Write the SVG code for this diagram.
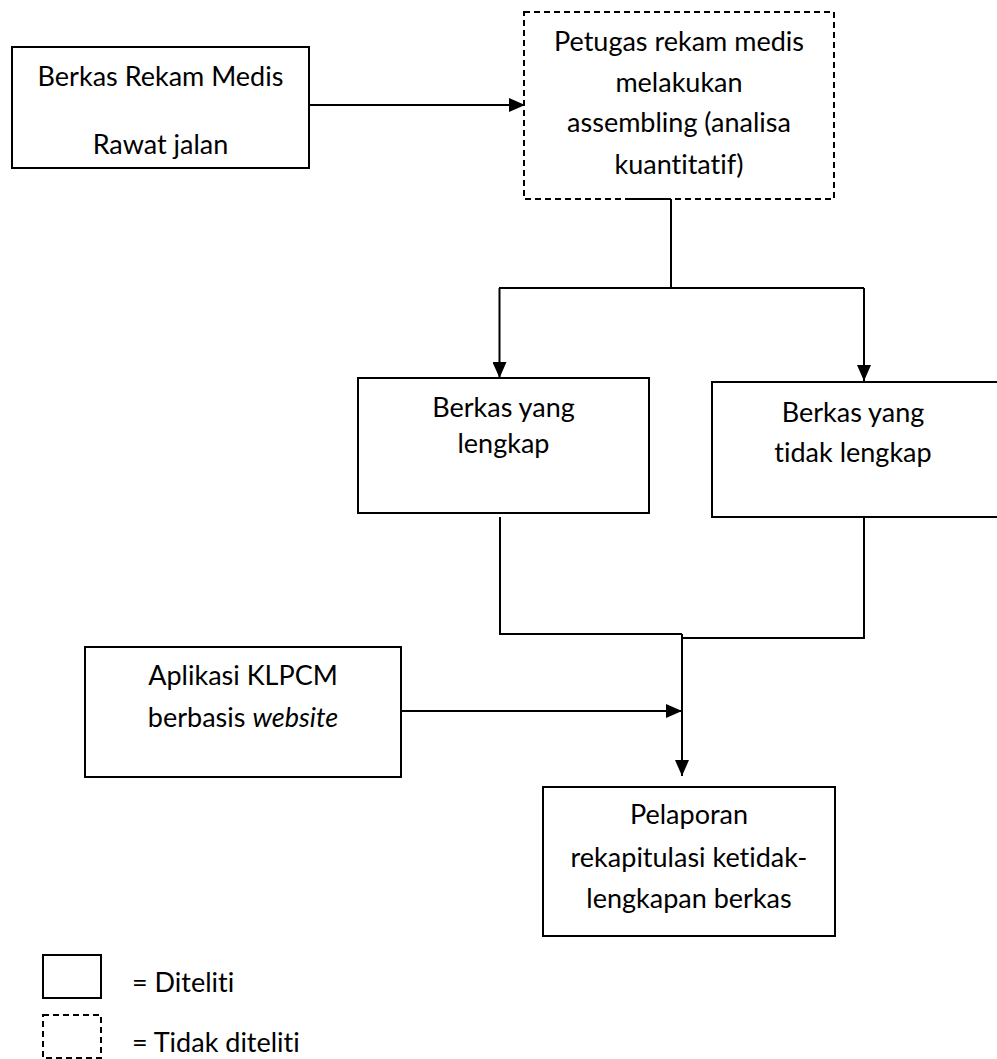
<svg xmlns="http://www.w3.org/2000/svg" width="997" height="1059" viewBox="0 0 997 1059">
<style>
.box{fill:#fff;stroke:#000;stroke-width:2}
.dash{fill:#fff;stroke:#000;stroke-width:2;stroke-dasharray:6 4}
.ln{fill:none;stroke:#000;stroke-width:2}
text{font-family:Lato,"Liberation Sans",sans-serif;font-size:27px;fill:#000;text-anchor:middle;font-variant-ligatures:none;font-feature-settings:"liga" 0,"clig" 0}
.lg{text-anchor:start}
</style>
<defs>
<marker id="ah" markerUnits="userSpaceOnUse" markerWidth="16" markerHeight="14" refX="16" refY="7" orient="auto">
<path d="M0,0 L16,7 L0,14 Z" fill="#000"/>
</marker>
</defs>
<rect width="997" height="1059" fill="#fff"/>
<g id="connectors">
<path class="ln" d="M309,105 H525" marker-end="url(#ah)"/>
<path class="ln" d="M631,199 H671 V288"/>
<path class="ln" d="M499,288 H864"/>
<path class="ln" d="M499.5,288 V378" marker-end="url(#ah)"/>
<path class="ln" d="M864,288 V381" marker-end="url(#ah)"/>
<path class="ln" d="M500,517 V634 H682"/>
<path class="ln" d="M864,517 V638 H682"/>
<path class="ln" d="M682,634 V776" marker-end="url(#ah)"/>
<path class="ln" d="M401,711 H682" marker-end="url(#ah)"/>
</g>
<g id="node-berkas-rm">
<rect class="box" x="12" y="47" width="297" height="121"/>
<text x="160.5" y="86">Berkas Rekam Medis</text>
<text x="160.5" y="154">Rawat jalan</text>
</g>
<g id="node-petugas">
<rect class="dash" x="524" y="12" width="310" height="187"/>
<path class="ln" d="M631,199 H671"/>
<text x="679" y="51">Petugas rekam medis</text>
<text x="679" y="92">melakukan</text>
<text x="679" y="132">assembling (analisa</text>
<text x="679" y="174">kuantitatif)</text>
</g>
<g id="node-lengkap">
<rect class="box" x="358" y="378" width="291" height="135"/>
<text x="503.5" y="417">Berkas yang</text>
<text x="503.5" y="453">lengkap</text>
</g>
<g id="node-tidak-lengkap">
<rect class="box" x="712" y="382" width="300" height="135"/>
<text x="853" y="422">Berkas yang</text>
<text x="853" y="462">tidak lengkap</text>
</g>
<g id="node-aplikasi">
<rect class="box" x="85" y="647" width="316" height="130"/>
<text x="243" y="685">Aplikasi KLPCM</text>
<text x="243" y="727">berbasis <tspan font-style="italic">website</tspan></text>
</g>
<g id="node-pelaporan">
<rect class="box" x="543" y="787" width="292" height="149"/>
<text x="689" y="824">Pelaporan</text>
<text x="689" y="867">rekapitulasi ketidak-</text>
<text x="689" y="908">lengkapan berkas</text>
</g>
<g id="legend">
<rect class="box" x="43" y="955" width="58" height="43"/>
<text class="lg" x="132" y="992">= Diteliti</text>
<rect class="dash" x="43" y="1015" width="58" height="43"/>
<text class="lg" x="132" y="1052">= Tidak diteliti</text>
</g>
</svg>
